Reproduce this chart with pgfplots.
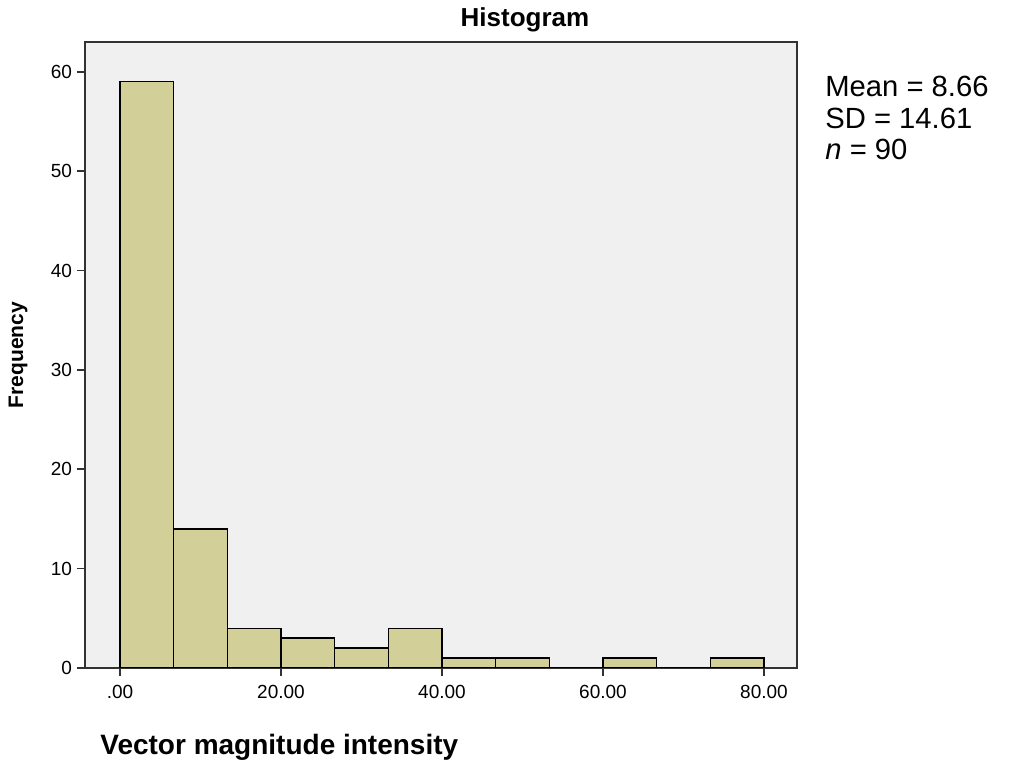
\documentclass[border=0pt]{standalone}
\usepackage{fontspec}
\setmainfont{Liberation Sans}
\usepackage{pgfplots}
\pgfplotsset{compat=1.18}
\definecolor{barfill}{RGB}{211,207,152}
\definecolor{bgfill}{RGB}{240,240,240}
\definecolor{frame}{RGB}{50,50,50}
\begin{document}
\begin{tikzpicture}
\begin{axis}[
  name=ax,
  scale only axis,
  width=356pt, height=313pt,
  xmin=-4.35, xmax=84.1,
  ymin=0, ymax=63,
  axis background/.style={fill=bgfill},
  axis line style={frame, line width=0.8pt},
  xtick={0,20,40,60,80},
  xticklabels={.00,20.00,40.00,60.00,80.00},
  ytick={0,10,20,30,40,50,60},
  tick align=outside,
  xtick pos=bottom, ytick pos=left,
  major tick length=4pt,
  tick style={frame, line width=0.8pt},
  /pgf/number format/assume math mode=true,
  tick label style={font=\fontsize{9.5}{11}\selectfont},
  xticklabel style={yshift=-1pt},
  yticklabel style={xshift=1pt},
]
\addplot[ybar interval, fill=barfill, draw=black, line width=0.7pt] coordinates {
  (0,59) (6.6667,14) (13.3333,4) (20,3) (26.6667,2) (33.3333,4)
  (40,1) (46.6667,1) (53.3333,0) (60,1) (66.6667,0) (73.3333,1) (80,1)
};
\end{axis}
\node[font=\fontsize{13}{15}\selectfont\bfseries] at ([xshift=220pt,yshift=11pt]ax.north west) {Histogram};
\node[anchor=base west, font=\fontsize{14.6}{17}\selectfont, inner sep=0pt] at ([xshift=14pt,yshift=-27pt]ax.north east) {Mean = 8.66};
\node[anchor=base west, font=\fontsize{14.6}{17}\selectfont, inner sep=0pt] at ([xshift=14pt,yshift=-43pt]ax.north east) {SD = 14.61};
\node[anchor=base west, font=\fontsize{14.6}{17}\selectfont, inner sep=0pt] at ([xshift=14pt,yshift=-58.5pt]ax.north east) {\textit{n} = 90};
\node[anchor=base west, font=\fontsize{14}{17}\selectfont\bfseries, inner sep=0pt] at ([xshift=7.5pt,yshift=-43.5pt]ax.south west) {Vector magnitude intensity};
\node[rotate=90, font=\fontsize{10.5}{12}\selectfont\bfseries] at ([xshift=-33.5pt]ax.west) {Frequency};
\pgfresetboundingbox
\path[use as bounding box] ([xshift=-42.5pt,yshift=-47.5pt]ax.south west) rectangle ([xshift=107pt,yshift=21pt]ax.north east);
\end{tikzpicture}
\end{document}
